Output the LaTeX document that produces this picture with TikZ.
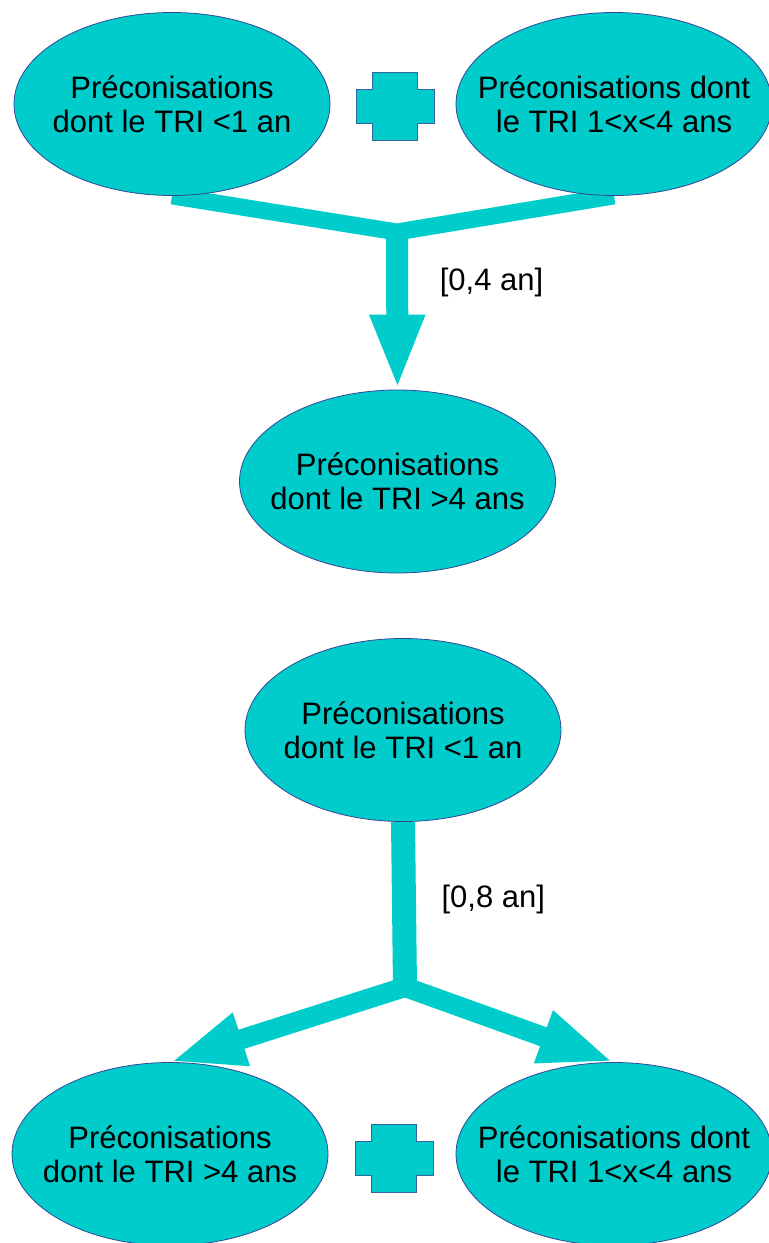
\documentclass[tikz,border=0pt]{standalone}
\usepackage{fontspec}
\setmainfont{Liberation Sans}
\usetikzlibrary{positioning}
\usetikzlibrary{arrows.meta}
\usetikzlibrary{shapes.geometric}
\usetikzlibrary{backgrounds}
\definecolor{turq}{RGB}{0,204,204}
\definecolor{rimblue}{RGB}{52,70,150}
\definecolor{crossblue}{RGB}{52,101,164}
\tikzset{x=0.5pt, y=-0.5pt,
every node/.style={font=\fontsize{15.5}{16.8}\selectfont},
bubble/.style={ % Sets the properties for each ellipse
ellipse, draw=rimblue, thin,
fill=turq, text=black, align=center,
minimum width=158pt, minimum height=91.5pt,
inner xsep=-15pt, inner ysep=0pt},
flow/.style={ % Thick teal connectors
draw=turq, line join=miter},
fat tip/.style={-{Triangle[length=37.5pt, width=25pt]}},
span/.style={text=black, anchor=west},
plus sign/.pic={ % Filled plus between two ellipses
\draw[crossblue, thin, fill=turq]
(-22.5,-34) -- (22.5,-34) -- (22.5,-17) -- (39,-17) -- (39,17) -- (22.5,17)
-- (22.5,34) -- (-22.5,34) -- (-22.5,17) -- (-39,17) -- (-39,-17) -- (-22.5,-17) -- cycle;}}

\begin{document}
\begin{tikzpicture}
\useasboundingbox (0,0) rectangle (768,1243);

% upper part
\node[bubble] (a1) at (172,104) {Préconisations\\dont le TRI <1 an};
\node[bubble, right of=a1, node distance=221pt] (a2) {Préconisations dont\\le TRI 1<x<4 ans};
\pic at (395,106) {plus sign};
\node[bubble] (a3) at (397.5,481.5) {Préconisations\\dont le TRI >4 ans};
\coordinate (j1) at (397,232);

% lower part
\node[bubble] (b1) at (403,730) {Préconisations\\dont le TRI <1 an};
\node[bubble] (b2) at (170,1154) {Préconisations\\dont le TRI >4 ans};
\node[bubble, right of=b2, node distance=222pt] (b3) {Préconisations dont\\le TRI 1<x<4 ans};
\pic at (394,1158) {plus sign};
\coordinate (j2) at (405,987);

\begin{scope}[on background layer]
\draw[flow, line width=8.5pt] (a1.south) -- (j1) -- (a2.south);
\draw[flow, fat tip, line width=11pt] (j1) -- node[span, pos=0.32, xshift=12.5pt] (t1) {[0,4 an]} (a3.north);
\draw[flow, line width=12pt] (b1.south) -- node[span, pos=0.47, xshift=9.5pt] (t2) {[0,8 an]} (j2);
\draw[flow, fat tip, line width=10pt] (j2) -- (b2.north);
\draw[flow, fat tip, line width=10pt] (j2) -- (b3.north);
\end{scope}
\end{tikzpicture}
\end{document}
